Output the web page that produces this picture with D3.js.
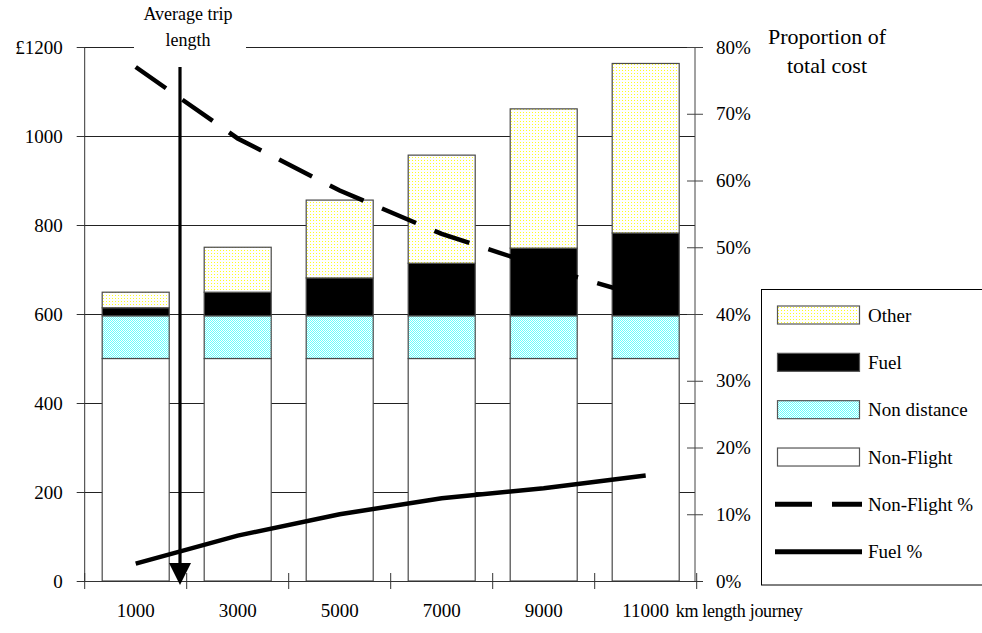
<!DOCTYPE html>
<html>
<head>
<meta charset="utf-8">
<script src="https://cdn.jsdelivr.net/npm/d3@7"></script>
<style>
  html, body { margin: 0; padding: 0; background: #fff; }
  svg { display: block; }
  text { font-family: "Liberation Serif", "Times New Roman", serif; fill: #000; }
</style>
</head>
<body>
<svg id="chart" width="982" height="633"></svg>
<script>
// ---- data ----
const categories = ["1000", "3000", "5000", "7000", "9000", "11000"];
const nonFlight = [500, 500, 500, 500, 500, 500];
const nonDistance = [96, 96, 96, 96, 96, 96];
const fuel = [18, 53, 85, 118, 152, 186];
const other = [35, 101, 175, 243, 313, 381];
const nonFlightPct = [77, 66.3, 58.5, 52, 47, 42.5];
const fuelPct = [2.6, 6.8, 10.0, 12.4, 13.9, 15.8];
const leftTicks = [0, 200, 400, 600, 800, 1000, 1200];
const leftTickLabels = ["0", "200", "400", "600", "800", "1000", "£1200"];
const rightTicks = [0, 10, 20, 30, 40, 50, 60, 70, 80];
const rightTickLabels = ["0%", "10%", "20%", "30%", "40%", "50%", "60%", "70%", "80%"];
const seriesNames = ["Non-Flight", "Non distance", "Fuel", "Other"];

const svg = d3.select("#chart");
const defs = svg.append("defs");

// dotted fills
const pY = defs.append("pattern").attr("id", "patOther").attr("patternUnits", "userSpaceOnUse")
  .attr("width", 3).attr("height", 3);
pY.append("rect").attr("width", 3).attr("height", 3).attr("fill", "#ffffff");
pY.append("rect").attr("x", 1).attr("y", 1).attr("width", 1).attr("height", 1).attr("fill", "#ffff20");

const pC = defs.append("pattern").attr("id", "patNonDist").attr("patternUnits", "userSpaceOnUse")
  .attr("width", 2).attr("height", 2);
pC.append("rect").attr("width", 2).attr("height", 2).attr("fill", "#ffffff");
pC.append("rect").attr("x", 0).attr("y", 0).attr("width", 1).attr("height", 1).attr("fill", "#66ffff");
pC.append("rect").attr("x", 1).attr("y", 1).attr("width", 1).attr("height", 1).attr("fill", "#66ffff");

const fills = {"Non-Flight": "#ffffff", "Non distance": "url(#patNonDist)", "Fuel": "#000000", "Other": "url(#patOther)"};

// ---- scales ----
const x = d3.scaleBand().domain(categories).range([84.7, 696.7]).paddingInner(0.343).paddingOuter(0.1715);
const y = d3.scaleLinear().domain([0, 1200]).range([581, 47]);
const y2 = d3.scaleLinear().domain([0, 80]).range([581, 47]);
const step = x.step();

// ---- gridlines ----
svg.append("g").selectAll("line").data(leftTicks.filter(d => d > 0)).join("line")
  .attr("x1", 77).attr("x2", 695)
  .attr("y1", d => Math.round(y(d)) + 0.5).attr("y2", d => Math.round(y(d)) + 0.5)
  .attr("stroke", "#222").attr("stroke-width", 1);

// ---- stacked bars ----
const table = categories.map((c, i) => ({cat: c, "Non-Flight": nonFlight[i], "Non distance": nonDistance[i], "Fuel": fuel[i], "Other": other[i]}));
const stack = d3.stack().keys(seriesNames)(table);
svg.append("g").selectAll("g").data(stack).join("g")
  .attr("fill", d => fills[d.key])
  .selectAll("rect").data(d => d).join("rect")
  .attr("x", d => x(d.data.cat))
  .attr("y", d => y(d[1]))
  .attr("width", x.bandwidth())
  .attr("height", d => y(d[0]) - y(d[1]))
  .attr("stroke", "#4a4a4a").attr("stroke-width", 1.2);

// ---- axes ----
const leftAxis = svg.append("g").attr("transform", "translate(84.7,0)")
  .call(d3.axisLeft(y).tickValues(leftTicks).tickSize(8).tickPadding(14)
    .tickFormat((d, i) => leftTickLabels[i]));
leftAxis.select(".domain").attr("stroke", "#333").attr("d", `M0,${y(0)}V${y(1200)}`);
leftAxis.selectAll(".tick line").attr("stroke", "#333");
leftAxis.selectAll(".tick text").attr("font-size", 19).attr("font-family", "Liberation Serif").attr("dy", "0.32em");

const rightAxis = svg.append("g").attr("transform", "translate(695,0)")
  .call(d3.axisRight(y2).tickValues(rightTicks).tickSize(8).tickPadding(13)
    .tickFormat((d, i) => rightTickLabels[i]));
rightAxis.select(".domain").attr("stroke", "#444").attr("d", `M0,${y2(0)}V${y2(80)}`);
rightAxis.selectAll(".tick line").attr("stroke", "#444").attr("x1", -8).attr("x2", 8);
rightAxis.selectAll(".tick text").attr("font-size", 19).attr("font-family", "Liberation Serif").attr("dy", "0.32em");

// x axis
const xBounds = d3.range(categories.length + 1).map(i => x.range()[0] + i * step);
svg.append("line").attr("x1", 77).attr("x2", 703).attr("y1", 581.5).attr("y2", 581.5).attr("stroke", "#333");
svg.append("g").selectAll("line").data(xBounds).join("line")
  .attr("x1", d => d).attr("x2", d => d).attr("y1", 573).attr("y2", 589)
  .attr("stroke", "#333");
svg.append("g").selectAll("text").data(categories).join("text")
  .attr("x", d => x(d) + x.bandwidth() / 2).attr("y", 617)
  .attr("text-anchor", "middle").attr("font-size", 19).text(d => d);
svg.append("text").attr("x", x(categories[5]) + x.bandwidth() / 2 + 30).attr("y", 617)
  .attr("font-size", 18).attr("letter-spacing", "-0.3").text("km length journey");

// ---- lines ----
const cx = c => x(c) + x.bandwidth() / 2;
const lineGen = d3.line().x((d, i) => cx(categories[i])).y(d => y2(d));
svg.append("path").datum(nonFlightPct).attr("d", lineGen)
  .attr("fill", "none").attr("stroke", "#000").attr("stroke-width", 4.5)
  .attr("stroke-dasharray", "37,20");
svg.append("path").datum(fuelPct).attr("d", lineGen)
  .attr("fill", "none").attr("stroke", "#000").attr("stroke-width", 4.5);

// ---- average trip annotation ----
const ax = 180;
svg.append("rect").attr("x", 134).attr("y", 40).attr("width", 112).attr("height", 14).attr("fill", "#fff");
svg.append("line").attr("x1", ax).attr("x2", ax).attr("y1", 67).attr("y2", 565)
  .attr("stroke", "#000").attr("stroke-width", 3.2);
svg.append("path").attr("d", `M${ax - 11},563L${ax + 11},563L${ax},585Z`).attr("fill", "#000");
const at = svg.append("text").attr("x", 188).attr("y", 20).attr("text-anchor", "middle").attr("font-size", 18);
at.append("tspan").attr("x", 188).attr("dy", 0).text("Average trip");
at.append("tspan").attr("x", 188).attr("dy", 26).text("length");

// ---- right axis title ----
const rt = svg.append("text").attr("x", 827).attr("y", 44).attr("text-anchor", "middle").attr("font-size", 22);
rt.append("tspan").attr("x", 827).attr("dy", 0).text("Proportion of");
rt.append("tspan").attr("x", 827).attr("dy", 29).text("total cost");

// ---- legend ----
const legend = svg.append("g");
legend.append("rect").attr("x", 761.5).attr("y", 289.5).attr("width", 240).attr("height", 295.5)
  .attr("fill", "#fff").attr("stroke", "#000").attr("stroke-width", 1);
const legItems = [
  {name: "Other", type: "rect"},
  {name: "Fuel", type: "rect"},
  {name: "Non distance", type: "rect"},
  {name: "Non-Flight", type: "rect"},
  {name: "Non-Flight %", type: "dash"},
  {name: "Fuel %", type: "solid"}
];
const ly = d3.scalePoint().domain(legItems.map(d => d.name)).range([315, 551.7]);
legItems.forEach(it => {
  const yy = ly(it.name);
  if (it.type === "rect") {
    legend.append("rect").attr("x", 777.5).attr("y", yy - 9).attr("width", 82).attr("height", 18)
      .attr("fill", fills[it.name]).attr("stroke", "#555").attr("stroke-width", 1.2);
  } else {
    legend.append("line").attr("x1", 775).attr("x2", 862).attr("y1", yy).attr("y2", yy)
      .attr("stroke", "#000").attr("stroke-width", 5)
      .attr("stroke-dasharray", it.type === "dash" ? "37,20" : null);
  }
  legend.append("text").attr("x", 868).attr("y", yy).attr("dy", "0.35em").attr("font-size", 19).text(it.name);
});
</script>
</body>
</html>
